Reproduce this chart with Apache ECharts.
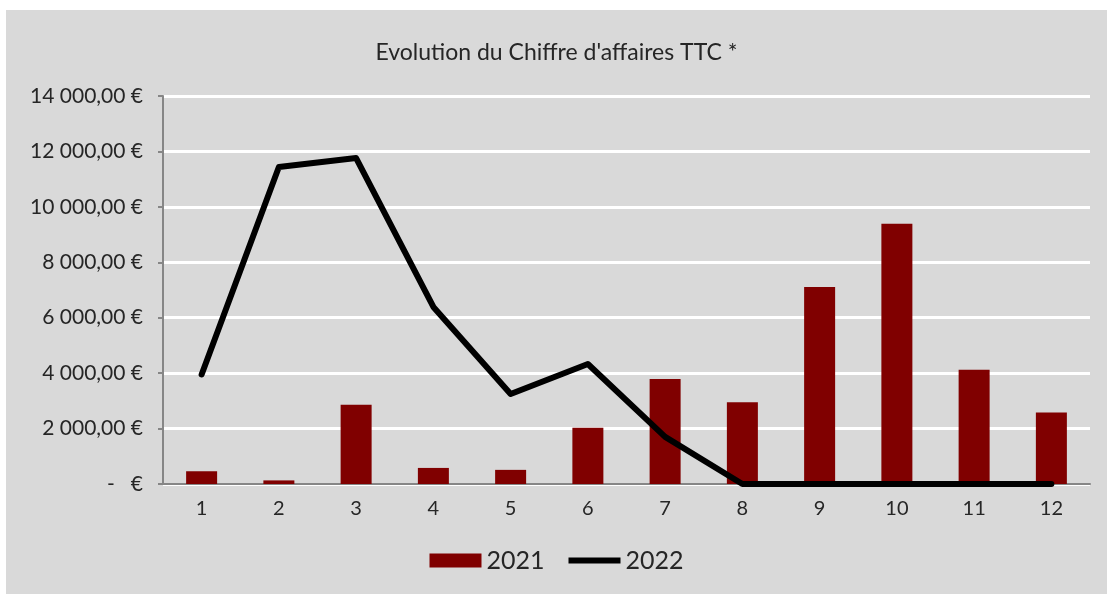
<!DOCTYPE html>
<html>
<head>
<meta charset="utf-8">
<script src="https://cdn.jsdelivr.net/npm/echarts@6/dist/echarts.min.js"></script>
<style>
  html, body { margin: 0; padding: 0; background: #ffffff; }
  #chart { position: absolute; left: 6px; top: 10px; width: 1101px; height: 584px; }
</style>
</head>
<body>
<div id="chart"></div>
<script>
// months
const months = ['1', '2', '3', '4', '5', '6', '7', '8', '9', '10', '11', '12'];
// CA TTC 2021 (bars)
const ca2021 = [460, 130, 2860, 580, 510, 2030, 3790, 2950, 7110, 9390, 4120, 2580];
// CA TTC 2022 (line)
const ca2022 = [3950, 11440, 11760, 6390, 3250, 4330, 1700, 0, 0, 0, 0, 0];
const yTicks = { min: 0, max: 14000, interval: 2000 };

function fmtEuro(v) {
    if (v === 0) return '-   €';
    const s = Math.round(v).toString().replace(/\B(?=(\d{3})+(?!\d))/g, ' ');
    return s + ',00 €';
}

const chart = echarts.init(document.getElementById('chart'));
const font = 'Lato, "Noto Sans", sans-serif';

chart.setOption({
    backgroundColor: '#d9d9d9',
    textStyle: { fontFamily: font },
    title: {
        text: "Evolution du Chiffre d'affaires TTC *",
        left: 'center', top: 26,
        textStyle: { fontSize: 23, fontWeight: 'normal', color: '#262626', fontFamily: font }
    },
    legend: {
        bottom: 16, left: 'center',
        itemWidth: 52, itemHeight: 14, itemGap: 24,
        textStyle: { fontSize: 25, color: '#262626', fontFamily: font },
        data: [
            { name: '2021', icon: 'rect' },
            { name: '2022', icon: 'path://M0,0 L52,0 L52,6 L0,6 Z', itemStyle: { color: '#000000' } }
        ]
    },
    grid: { left: 157, right: 17, top: 86, bottom: 110 },
    xAxis: {
        type: 'category',
        data: months,
        axisLine: { lineStyle: { color: '#868686', width: 2 } },
        axisTick: { show: false },
        axisLabel: { fontSize: 20, color: '#262626', margin: 15 }
    },
    yAxis: {
        type: 'value',
        min: yTicks.min, max: yTicks.max, interval: yTicks.interval,
        axisLine: { show: true, lineStyle: { color: '#868686', width: 2 } },
        axisTick: { show: true, length: 5, lineStyle: { color: '#868686', width: 2 } },
        axisLabel: { fontSize: 21, color: '#262626', margin: 20, formatter: fmtEuro },
        splitLine: { lineStyle: { color: '#ffffff', width: 3 } }
    },
    series: [
        {
            name: '2021', type: 'bar', data: ca2021,
            barWidth: 31,
            itemStyle: { color: '#800000' },
            z: 2
        },
        {
            name: '2022', type: 'line', data: ca2022,
            symbol: 'none',
            lineStyle: { color: '#000000', width: 6, cap: 'round', join: 'round' },
            itemStyle: { color: '#000000' },
            z: 3
        }
    ]
});
</script>
</body>
</html>
